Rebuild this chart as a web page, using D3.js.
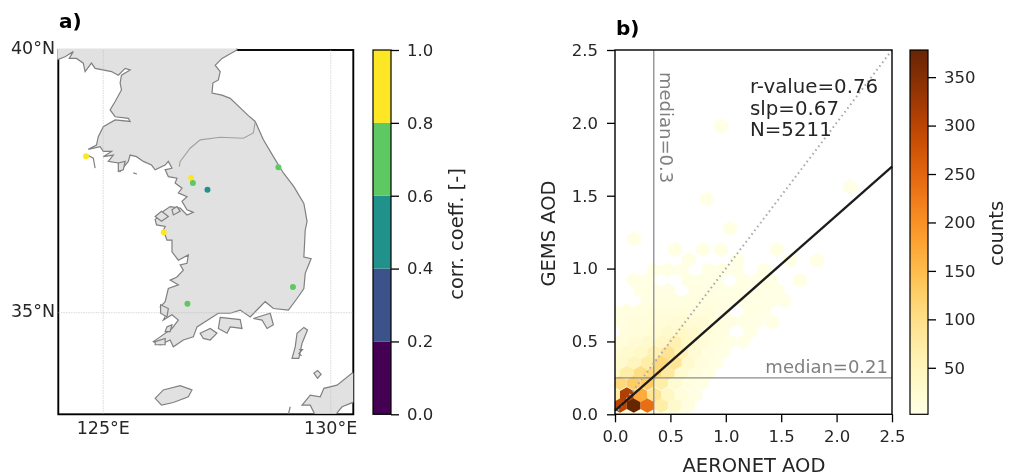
<!DOCTYPE html>
<html lang="en">
<head>
<meta charset="utf-8" />
<title>GEMS AOD</title>
<script src="https://d3js.org/d3.v7.min.js"></script>
<style>
    html, body { margin:0; padding:0; overflow:hidden; background-color:#fff }
    svg { position:fixed; top:0; left:0; filter:blur(0.4px) }
    text { font-family:"DejaVu Sans"; fill:#262626 }
</style>
</head>
<body>
<svg id="svg" width="1009" height="476"></svg>
<script>
// ---- map data (lon, lat)
const mainland = [[123.97,39.81],[124.16,39.87],[124.34,39.97],[124.25,39.84],[124.41,39.84],[124.56,39.75],[124.60,39.59],[124.74,39.75],[124.82,39.65],[125.18,39.59],[125.33,39.52],[125.48,39.65],[125.59,39.62],[125.40,39.52],[125.37,39.37],[125.40,39.24],[125.26,39.02],[125.15,38.86],[125.26,38.73],[125.55,38.70],[125.59,38.64],[125.26,38.67],[125.00,38.54],[124.89,38.35],[124.85,38.19],[124.67,38.11],[124.93,38.16],[125.00,38.07],[125.18,38.07],[125.00,37.97],[125.22,38.00],[125.11,37.88],[125.33,37.85],[125.37,37.69],[125.55,37.88],[125.59,38.00],[125.73,37.97],[125.88,37.88],[126.06,37.81],[126.14,37.72],[126.36,37.81],[126.43,37.88],[126.51,37.75],[126.36,37.72],[126.43,37.59],[126.62,37.56],[126.58,37.47],[126.73,37.37],[126.65,37.28],[126.84,37.21],[126.73,37.12],[126.84,36.96],[126.98,36.91],[126.84,36.86],[126.69,36.99],[126.47,37.02],[126.32,36.93],[126.14,36.77],[126.17,36.67],[126.36,36.64],[126.32,36.57],[126.40,36.38],[126.51,36.38],[126.51,36.16],[126.65,36.00],[126.87,36.10],[126.84,35.94],[126.69,35.91],[126.76,35.81],[126.62,35.68],[126.47,35.62],[126.65,35.53],[126.43,35.46],[126.36,35.21],[126.25,35.11],[126.40,34.99],[126.32,34.86],[126.51,34.96],[126.65,34.86],[126.51,34.70],[126.25,34.54],[126.10,34.45],[126.25,34.39],[126.47,34.48],[126.54,34.35],[126.76,34.48],[126.98,34.54],[127.06,34.73],[127.35,34.89],[127.53,34.99],[127.79,34.99],[128.01,35.05],[128.23,34.92],[128.41,35.08],[128.56,35.21],[128.74,35.08],[129.07,35.05],[129.26,35.27],[129.41,35.46],[129.44,35.75],[129.57,36.03],[129.41,36.06],[129.44,36.57],[129.48,36.74],[129.41,37.08],[129.19,37.40],[128.96,37.66],[128.74,37.97],[128.52,38.29],[128.34,38.64],[128.19,38.75],[127.79,39.08],[127.61,39.14],[127.39,39.18],[127.41,39.37],[127.53,39.43],[127.57,39.59],[127.46,39.71],[127.61,39.84],[127.94,40.00],[127.94,40.10],[123.97,40.10]];
const islands = [
    [[126.14,33.37],[126.32,33.53],[126.69,33.61],[126.95,33.53],[126.87,33.40],[126.54,33.29],[126.28,33.24]],
    [[129.15,34.13],[129.30,34.13],[129.37,34.42],[129.49,34.67],[129.41,34.72],[129.26,34.61],[129.22,34.35]],
    [[129.63,33.85],[129.71,33.90],[129.79,33.83],[129.71,33.75]],
    [[129.66,33.05],[129.55,33.24],[129.37,33.24],[129.55,33.43],[129.77,33.40],[129.85,33.56],[130.14,33.62],[130.47,33.85],[130.54,33.85],[130.54,33.31],[130.25,33.21],[130.10,33.05]],
    [[127.13,34.61],[127.35,34.70],[127.50,34.61],[127.35,34.48],[127.20,34.51]],
    [[127.57,34.91],[128.01,34.87],[128.05,34.70],[127.79,34.73],[127.72,34.61],[127.53,34.70]],
    [[128.30,34.89],[128.67,34.99],[128.74,34.77],[128.60,34.70],[128.49,34.86]],
    [[126.26,35.15],[126.43,35.08],[126.40,34.92],[126.26,34.99]],
    [[126.40,34.73],[126.51,34.77],[126.47,34.64],[126.36,34.64]],
    [[126.14,34.45],[126.36,34.51],[126.36,34.39],[126.14,34.39]],
    [[126.14,36.83],[126.28,36.93],[126.43,36.83],[126.28,36.74]],
    [[126.51,36.96],[126.62,37.02],[126.69,36.93],[126.54,36.86]],
    [[125.33,37.85],[125.48,37.88],[125.44,37.72],[125.33,37.69]]
];
const shoreLines = [
    [[124.65,38.00],[124.78,37.94],[124.82,37.75]],
    [[125.66,37.66],[125.74,37.64]],
    [[129.07,33.07],[129.11,33.21]],
    [[129.30,34.30],[129.38,34.30],[129.30,34.22],[129.36,34.18]]
];
const borderLine = [[128.34,38.64],[128.30,38.42],[128.08,38.32],[127.57,38.34],[127.13,38.29],[126.91,38.13],[126.69,37.88],[126.67,37.78]];

const siteLon = [124.62,126.93,126.97,127.29,128.85,126.33,129.17,126.85];
const siteLat = [37.98,37.57,37.47,37.34,37.77,36.53,35.49,35.17];
const siteCorr = [0.9,0.9,0.7,0.5,0.7,0.9,0.7,0.7];

const corrBands = [0,0.2,0.4,0.6,0.8,1];
const corrColors = ["#440154","#3b528b","#21918c","#5ec962","#fde725"];

// ---- hexbin data: bin centres and counts per row, top row first
const aodBinsA = [0.045,0.169,0.292,0.416,0.54,0.663,0.787,0.911,1.034,1.158,1.282,1.405,1.529,1.653];
const aodBinsB = [-0.017,0.107,0.23,0.354,0.478,0.602,0.725,0.849,0.973,1.096,1.22,1.344,1.467,1.591];
const gemsBins = [0.991,0.92,0.85,0.78,0.709,0.639,0.568,0.498,0.428,0.357,0.287,0.216,0.135,0.062,0.0];
const binSet = ["B","A","B","A","B","A","B","A","B","A","B","A","B","A","B"];
const hexCounts = [
    [0,0,0,3,3,2,0,3,3,2,0,2],
    [0,0,3,0,0,3,4,3,0,3,2,2],
    [0,0,4,5,5,0,5,5,4,3,2,2,2],
    [0,0,6,7,8,9,9,8,5,3,3,2,2],
    [6,8,10,12,14,15,14,12,6,0,3,2],
    [10,12,15,18,20,22,20,10,6,4,2],
    [0,12,15,20,28,35,30,14,8,0,2],
    [15,20,30,40,60,35,18,10,4,2],
    [20,25,35,60,90,55,20,8,3],
    [30,45,70,110,90,30,12,3],
    [35,70,100,110,80,25,12,3],
    [110,130,130,70,25,10,3],
    [70,310,170,90,40,15,5],
    [300,378,240,70,30,8],
    [12,12,10,6,4,2]
];
// the outlying single bins
const looseAod = [0.171,0.171,0.541,0.668,0.794,0.957,0.83,0.957,1.038,2.121,1.462,1.823,1.67,1.417,1.58,1.101];
const looseGems = [1.202,0.92,1.131,1.063,1.131,1.131,1.477,1.978,1.275,1.559,1.131,1.058,0.92,0.632,1.058,1.058];
const looseCount = [3,3,3,3,3,3,2,2,3,2,3,2,3,3,2,3];

const axisTicks = [0,0.5,1,1.5,2,2.5];
const countTicks = [50,100,150,200,250,300,350];
const statLines = ["r-value=0.76","slp=0.67","N=5211"];
const medianAod = 0.35, medianGems = 0.25;
const fitSlope = 0.67, fitIntercept = 0.025;

let svg = d3.select("svg");
let defs = svg.append("defs");
const tickSize = 16.5, labelSize = 19.5;

function styleAxis(a) {
    a.select(".domain").remove();
    a.selectAll("line").attr("stroke","#000").attr("stroke-width",1.3);
    a.selectAll("text").attr("font-size",tickSize).attr("font-family","DejaVu Sans");
}

// ---- panel a
let lonScale = d3.scaleLinear().domain([125,130]).range([103.3,330.7]);
let latScale = d3.scaleLinear().domain([35,40]).range([312.7,50]);
let mapBox = {left:58.3, right:353.3, top:50, bottom:414.3};

defs.append("clipPath").attr("id","mapclip").append("rect")
    .attr("x",mapBox.left-1).attr("y",mapBox.top-1.5)
    .attr("width",mapBox.right-mapBox.left+1).attr("height",mapBox.bottom-mapBox.top+1);

svg.append("rect")
    .attr("x",mapBox.left).attr("y",mapBox.top)
    .attr("width",mapBox.right-mapBox.left).attr("height",mapBox.bottom-mapBox.top)
    .attr("fill","#fff").attr("stroke","#000").attr("stroke-width",1.9);

let mapLayer = svg.append("g").attr("clip-path","url(#mapclip)");
let geoLine = d3.line().x(d => lonScale(d[0])).y(d => latScale(d[1]));

[mainland].concat(islands).forEach(d => {
    mapLayer.append("path")
        .attr("d",geoLine(d)+"Z")
        .attr("fill","#e1e1e1")
        .attr("stroke","#808080")
        .attr("stroke-width",1.2);
});
shoreLines.forEach(d => {
    mapLayer.append("path").attr("d",geoLine(d)).attr("fill","none").attr("stroke","#808080").attr("stroke-width",1.2);
});
mapLayer.append("path").attr("d",geoLine(borderLine)).attr("fill","none").attr("stroke","#a0a0a0").attr("stroke-width",1.1);

[125,130].forEach(d => {
    mapLayer.append("line").attr("x1",lonScale(d)).attr("x2",lonScale(d))
        .attr("y1",mapBox.top).attr("y2",mapBox.bottom)
        .attr("stroke","#bbb").attr("stroke-opacity",0.45).attr("stroke-width",1.2).attr("stroke-dasharray","1.5 1");
});
mapLayer.append("line").attr("y1",latScale(35)).attr("y2",latScale(35))
    .attr("x1",mapBox.left).attr("x2",mapBox.right)
    .attr("stroke","#bbb").attr("stroke-opacity",0.45).attr("stroke-width",1.2).attr("stroke-dasharray","1.5 1");

let corrColor = d3.scaleThreshold().domain(corrBands.slice(1,-1)).range(corrColors);
siteLon.forEach((d,i) => {
    mapLayer.append("circle").attr("cx",lonScale(d)).attr("cy",latScale(siteLat[i])).attr("r",3)
        .attr("fill",corrColor(siteCorr[i]));
});

[[125,"125°E"],[130,"130°E"]].forEach(d => {
    svg.append("text").attr("x",lonScale(d[0])).attr("y",434).attr("text-anchor","middle")
        .attr("font-size",17.5).text(d[1]);
});
[[40,"40°N"],[35,"35°N"]].forEach(d => {
    svg.append("text").attr("x",55).attr("y",latScale(d[0])+4).attr("text-anchor","end")
        .attr("font-size",17.5).text(d[1]);
});
svg.append("text").attr("x",59).attr("y",28).attr("font-size",20).attr("font-weight","bold").style("fill","#000").text("a)");

// colour bar a
let corrScale = d3.scaleLinear().domain([0,1]).range([414.3,50]);
corrColors.forEach((c,i) => {
    svg.append("rect").attr("x",373).attr("width",18)
        .attr("y",corrScale(corrBands[i+1])).attr("height",corrScale(corrBands[i])-corrScale(corrBands[i+1]))
        .attr("fill",c);
});
let corrAxis = svg.append("g").attr("transform","translate(391,0)")
    .call(d3.axisRight(corrScale).tickValues(corrBands).tickFormat(d3.format(".1f")).tickSize(8).tickPadding(8));
styleAxis(corrAxis);
svg.append("rect").attr("x",373).attr("y",50).attr("width",18).attr("height",364.3)
    .attr("fill","none").attr("stroke","#000").attr("stroke-width",1.2);
svg.append("text").attr("transform","translate(463,234) rotate(-90)").attr("text-anchor","middle")
    .attr("font-size",labelSize).text("corr. coeff. [-]");

// ---- panel b
let xScale = d3.scaleLinear().domain([0,2.5]).range([615,892]);
let yScale = d3.scaleLinear().domain([0,2.5]).range([414.3,50]);
let countColor = d3.scaleSequential(d3.interpolateYlOrBr).domain([2,378]);

defs.append("clipPath").attr("id","hexclip").append("rect")
    .attr("x",615).attr("y",50).attr("width",277).attr("height",364.3);
defs.append("filter").attr("id","soft")
    .attr("x","-5%").attr("y","-5%").attr("width","110%").attr("height","110%")
    .append("feGaussianBlur").attr("stdDeviation",0.5);

const hexW = 13.7, hexH = 15;
function hexPath(aod, gems) {
    let cx = xScale(aod), cy = yScale(gems);
    return d3.line()([[cx,cy-hexH/2],[cx+hexW/2,cy-hexH/4],[cx+hexW/2,cy+hexH/4],
        [cx,cy+hexH/2],[cx-hexW/2,cy+hexH/4],[cx-hexW/2,cy-hexH/4]])+"Z";
}

let hexLayer = svg.append("g").attr("clip-path","url(#hexclip)").append("g").attr("filter","url(#soft)");
looseAod.forEach((d,i) => {
    hexLayer.append("path").attr("d",hexPath(d,looseGems[i])).attr("fill",countColor(looseCount[i]));
});
// bottom rows are drawn first so the busiest bins stay on top
hexCounts.map((row,r) => r).reverse().forEach(r => {
    let bins = binSet[r] == "A" ? aodBinsA : aodBinsB;
    hexCounts[r].forEach((n,c) => {
        if (n > 0) {
            hexLayer.append("path").attr("d",hexPath(bins[c],gemsBins[r])).attr("fill",countColor(n));
        }
    });
});

svg.append("line").attr("x1",xScale(medianAod)).attr("x2",xScale(medianAod)).attr("y1",50).attr("y2",414.3)
    .attr("stroke","#8c8c8c").attr("stroke-width",1.3);
svg.append("line").attr("y1",yScale(medianGems)).attr("y2",yScale(medianGems)).attr("x1",615).attr("x2",892)
    .attr("stroke","#8c8c8c").attr("stroke-width",1.3);
svg.append("line").attr("x1",xScale(0)).attr("y1",yScale(0)).attr("x2",xScale(2.5)).attr("y2",yScale(2.5))
    .attr("stroke","#aaa").attr("stroke-width",2).attr("stroke-dasharray","1.6 3.2");
svg.append("line").attr("x1",xScale(0)).attr("y1",yScale(fitIntercept))
    .attr("x2",xScale(2.5)).attr("y2",yScale(fitIntercept+fitSlope*2.5))
    .attr("stroke","#1c1c1c").attr("stroke-width",2.3);

svg.append("rect").attr("x",615).attr("y",50).attr("width",277).attr("height",364.3)
    .attr("fill","none").attr("stroke","#000").attr("stroke-width",1.4);

let xAxis = svg.append("g").attr("transform","translate(0,414.3)")
    .call(d3.axisBottom(xScale).tickValues(axisTicks).tickFormat(d3.format(".1f")).tickSize(8).tickPadding(8));
let yAxis = svg.append("g").attr("transform","translate(615,0)")
    .call(d3.axisLeft(yScale).tickValues(axisTicks).tickFormat(d3.format(".1f")).tickSize(8).tickPadding(9));
styleAxis(xAxis);
styleAxis(yAxis);

let statY = [93,114.7,136.4];
statLines.forEach((d,i) => {
    svg.append("text").attr("x",750).attr("y",statY[i]).attr("font-size",19.8).text(d);
});
svg.append("text").attr("x",888).attr("y",373).attr("text-anchor","end").attr("font-size",18)
    .style("fill","#808080").text("median=0.21");
svg.append("text").attr("transform","translate(660,72) rotate(90)").attr("font-size",18)
    .style("fill","#808080").text("median=0.3");
svg.append("text").attr("x",616).attr("y",35).attr("font-size",20).attr("font-weight","bold").style("fill","#000").text("b)");
svg.append("text").attr("x",754).attr("y",472).attr("text-anchor","middle").attr("font-size",labelSize).text("AERONET AOD");
svg.append("text").attr("transform","translate(555,233.5) rotate(-90)").attr("text-anchor","middle")
    .attr("font-size",labelSize).text("GEMS AOD");

// colour bar b
let countScale = d3.scaleLinear().domain([2,378]).range([414.3,50]);
let grad = defs.append("linearGradient").attr("id","countgrad")
    .attr("x1",0).attr("y1",1).attr("x2",0).attr("y2",0);
d3.range(0,1.001,0.05).forEach(t => {
    grad.append("stop").attr("offset",t).attr("stop-color",d3.interpolateYlOrBr(t));
});
svg.append("rect").attr("x",910).attr("y",50).attr("width",18).attr("height",364.3)
    .attr("fill","url(#countgrad)").attr("stroke","#000").attr("stroke-width",1.2);
let countAxis = svg.append("g").attr("transform","translate(928,0)")
    .call(d3.axisRight(countScale).tickValues(countTicks).tickSize(8).tickPadding(8));
styleAxis(countAxis);
svg.append("text").attr("transform","translate(1003,233.5) rotate(-90)").attr("text-anchor","middle")
    .attr("font-size",labelSize).text("counts");
</script>
</body>
</html>
